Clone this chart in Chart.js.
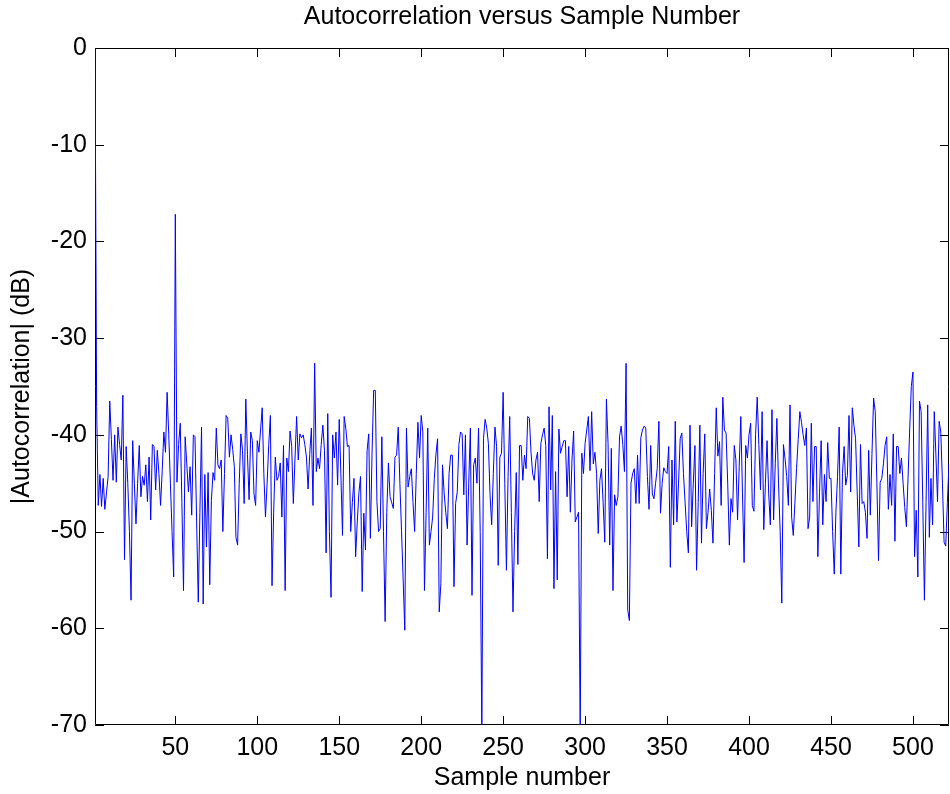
<!DOCTYPE html>
<html>
<head>
<meta charset="utf-8">
<script src="https://cdn.jsdelivr.net/npm/chart.js@4.4.0/dist/chart.umd.min.js"></script>
<style>
  html, body { margin: 0; padding: 0; background: #fff; }
  canvas { display: block; }
</style>
</head>
<body>
<canvas id="autocorr_chart" width="950" height="794"></canvas>
<script>
const chartTitle = "Autocorrelation versus Sample Number";
const xTitle = "Sample number";
const yTitle = "|Autocorrelation| (dB)";
const xTicks = [50, 100, 150, 200, 250, 300, 350, 400, 450, 500];
const yTicks = [0, -10, -20, -30, -40, -50, -60, -70];

// |autocorrelation| in dB for sample 1..522
const autocorrDb = [
  0, -37.1, -47.3, -44.1, -47.4, -44.5, -47.7, -46.0, -44.3, -36.5,
  -40.5, -44.7, -40.0, -44.9, -39.2, -41.0, -42.6, -35.9, -52.9, -41.2,
  -45.0, -50.0, -57.1, -40.6, -45.0, -49.2, -45.0, -41.1, -46.4, -44.3,
  -45.2, -43.1, -46.9, -42.3, -48.8, -41.0, -41.2, -45.7, -41.6, -44.0,
  -47.3, -43.7,
  -39.7, -41.8, -35.6, -40.0, -45.0, -50.0, -54.7, -17.2, -44.9, -41.0,
  -38.8, -47.0, -56.1, -40.2, -43.0, -45.9, -43.3, -48.3, -40.0, -40.2,
  -49.0, -57.3, -48.0, -39.2, -57.5, -44.1, -51.6, -43.9, -55.5, -46.8,
  -43.9, -44.7, -39.3, -43.1, -43.5, -42.6, -50.0, -44.0, -38.0, -38.3,
  -42.3, -40.0, -41.5, -43.3,
  -50.6, -51.4, -45.0, -39.9, -41.6, -47.1, -36.3, -42.0, -46.7, -39.7,
  -40.6, -46.1, -47.3, -40.6, -41.8, -39.5, -37.2, -44.0, -48.5, -45.0,
  -41.0, -38.0, -55.6, -48.0, -42.3, -44.7, -44.3, -42.9, -48.5, -41.1,
  -56.1, -42.4, -43.8, -39.6, -41.2, -47.1, -42.5, -38.1, -42.6, -39.9,
  -40.3, -40.0, -41.0, -42.3,
  -45.6, -42.0, -39.3, -47.3, -32.6, -43.8, -42.4, -43.5, -41.0, -39.0,
  -41.6, -52.2, -37.8, -50.0, -56.8, -40.0, -42.4, -39.7, -45.2, -38.4,
  -44.0, -50.4, -38.1, -39.3, -41.2, -41.1, -50.0, -47.0, -44.5, -52.6,
  -49.0, -46.0, -44.3, -56.2, -48.1, -51.9, -41.6, -39.9, -50.7, -42.0,
  -35.4, -35.4, -46.9, -50.0,
  -49.7, -40.2, -50.0, -59.3, -48.0, -42.9, -46.4, -47.0, -47.6, -42.3,
  -42.1, -39.2, -45.0, -49.9, -55.0, -60.2, -39.3, -45.4, -44.3, -43.5,
  -47.0, -50.0, -44.0, -38.7, -42.4, -38.0, -39.7, -56.1, -48.0, -39.3,
  -51.4, -50.0, -48.5, -44.5, -42.0, -40.4, -58.3, -55.4, -43.1, -46.0,
  -48.0, -49.7, -44.0, -42.1,
  -42.1, -55.7, -47.1, -45.9, -41.0, -39.7, -39.9, -46.2, -40.0, -51.4,
  -45.0, -39.3, -56.6, -43.1, -42.4, -45.0, -39.3, -50.0, -71.0, -40.4,
  -38.4, -39.3, -40.9, -46.2, -49.3, -44.0, -39.2, -41.2, -53.5, -42.3,
  -41.9, -35.6, -45.0, -54.0, -44.3, -38.1, -48.0, -58.3, -50.0, -43.9,
  -53.4, -41.1, -41.1, -44.7,
  -42.1, -43.5, -38.1, -38.3, -41.8, -44.0, -44.7, -42.6, -41.8, -46.9,
  -40.9, -40.0, -39.3, -41.1, -52.8, -37.1, -45.7, -38.0, -55.9, -43.8,
  -55.0, -39.4, -41.9, -41.2, -40.6, -40.6, -46.4, -41.2, -48.0, -42.6,
  -39.6, -49.0, -48.5, -48.0, -71.0, -41.9, -44.0, -40.9, -39.5, -38.1,
  -43.7, -37.6, -43.0, -41.8,
  -44.0, -50.2, -44.7, -43.5, -47.0, -51.1, -36.3, -40.9, -51.4, -41.4,
  -56.1, -46.2, -47.3, -46.4, -40.2, -39.1, -41.0, -43.8, -32.6, -58.1,
  -59.2, -45.0, -44.0, -43.5, -47.1, -42.1, -47.1, -40.3, -39.5, -39.1,
  -39.3, -44.3, -47.7, -41.1, -46.1, -46.6, -45.0, -43.5, -38.6, -48.1,
  -45.0, -43.4, -43.8, -44.0,
  -41.2, -53.7, -42.6, -49.3, -38.6, -49.0, -45.0, -40.4, -39.8, -44.0,
  -47.0, -50.0, -52.2, -39.0, -49.5, -45.0, -41.1, -54.0, -47.0, -39.0,
  -51.2, -44.0, -39.9, -49.7, -48.0, -45.6, -47.8, -51.2, -44.0, -37.2,
  -42.2, -40.7, -47.3, -36.1, -39.5, -39.8, -45.0, -51.4, -46.6, -48.0,
  -41.1, -42.6, -48.8, -43.3,
  -38.1, -46.0, -53.2, -41.1, -42.4, -40.0, -38.8, -47.3, -47.9, -40.0,
  -36.1, -41.0, -45.7, -37.6, -49.8, -45.0, -40.6, -46.1, -49.3, -37.4,
  -48.8, -43.0, -38.3, -45.0, -50.0, -57.4, -41.0, -42.5, -44.3, -47.3,
  -36.9, -48.5, -50.4, -47.0, -43.5, -40.5, -37.6, -38.7, -40.0, -41.1,
  -39.3, -49.7, -48.5, -38.8,
  -46.9, -41.2, -41.2, -52.6, -46.0, -40.6, -49.3, -44.1, -46.9, -40.8,
  -44.5, -44.5, -50.0, -54.4, -48.0, -44.3, -39.2, -54.4, -44.0, -41.2,
  -45.2, -44.2, -38.0, -45.9, -37.2, -39.0, -40.4, -46.0, -51.6, -41.0,
  -47.1, -46.9, -48.0, -50.7, -41.6, -48.3, -42.0, -36.2, -37.6, -45.0,
  -53.0, -44.9, -44.5, -43.0,
  -41.1, -40.2, -47.7, -44.1, -47.3, -39.9, -51.0, -41.2, -41.2, -44.0,
  -42.4, -45.0, -47.5, -49.5, -44.5, -39.5, -35.0, -33.5, -52.6, -47.8,
  -54.7, -36.5, -37.6, -47.0, -57.1, -47.0, -36.9, -50.6, -44.5, -49.3,
  -37.6, -42.0, -46.9, -38.6, -39.7, -45.0, -51.1, -51.5, -47.0, -43.0
];

const fontFamily = '"Liberation Sans", Arial, Helvetica, sans-serif';
const cxt = document.getElementById("autocorr_chart").getContext("2d");

// MATLAB style box with inward ticks on all four sides
const boxTicks = {
  id: "boxTicks",
  beforeDatasetsDraw(chart) {
    const { ctx, chartArea: a, scales } = chart;
    const len = 9;
    ctx.save();
    ctx.strokeStyle = "#000";
    ctx.lineWidth = 1;
    ctx.beginPath();
    xTicks.forEach((v) => {
      const px = Math.round(scales.x.getPixelForValue(v)) + 0.5;
      ctx.moveTo(px, a.bottom);
      ctx.lineTo(px, a.bottom - len);
      ctx.moveTo(px, a.top);
      ctx.lineTo(px, a.top + len);
    });
    yTicks.forEach((v) => {
      const py = Math.round(scales.y.getPixelForValue(v)) + 0.5;
      ctx.moveTo(a.left, py);
      ctx.lineTo(a.left + len, py);
      ctx.moveTo(a.right, py);
      ctx.lineTo(a.right - len, py);
    });
    ctx.rect(a.left + 0.5, a.top + 0.5, a.width - 1, a.height - 1);
    ctx.stroke();
    ctx.restore();
  },
};

new Chart(cxt, {
  type: "line",
  data: {
    datasets: [
      {
        data: autocorrDb.map((v, i) => ({ x: i + 1, y: v })),
        borderColor: "#0000ff",
        borderWidth: 1,
        pointRadius: 0,
        tension: 0,
        fill: false,
      },
    ],
  },
  options: {
    responsive: false,
    animation: false,
    devicePixelRatio: 1,
    layout: { padding: { top: 0, left: 0, right: 1, bottom: 0 } },
    plugins: {
      legend: { display: false },
      tooltip: { enabled: false },
      title: {
        display: true,
        text: chartTitle,
        fullSize: false,
        color: "#000",
        font: { family: fontFamily, size: 25, weight: "normal" },
        padding: { top: 2, bottom: 16 },
      },
    },
    scales: {
      x: {
        type: "linear",
        min: 1,
        max: 522,
        afterBuildTicks: (s) => { s.ticks = xTicks.map((v) => ({ value: v })); },
        afterFit: (s) => { s.height = 69; },
        grid: { display: false, drawTicks: false },
        border: { display: false },
        ticks: {
          padding: 8,
          autoSkip: false,
          maxRotation: 0,
          color: "#000",
          font: { family: fontFamily, size: 25 },
          callback: (v) => String(v),
        },
        title: {
          display: true,
          text: xTitle,
          color: "#000",
          font: { family: fontFamily, size: 25 },
          padding: { top: 0, bottom: 1 },
        },
      },
      y: {
        min: -70,
        max: 0,
        afterBuildTicks: (s) => { s.ticks = yTicks.map((v) => ({ value: v })); },
        afterFit: (s) => { s.width = 95; },
        grid: { display: false, drawTicks: false },
        border: { display: false },
        ticks: {
          padding: 8,
          color: "#000",
          font: { family: fontFamily, size: 25 },
          callback: (v) => String(v),
        },
        title: {
          display: true,
          text: yTitle,
          color: "#000",
          font: { family: fontFamily, size: 25 },
          padding: { top: 7, bottom: 0 },
        },
      },
    },
  },
  plugins: [boxTicks],
});
</script>
</body>
</html>
